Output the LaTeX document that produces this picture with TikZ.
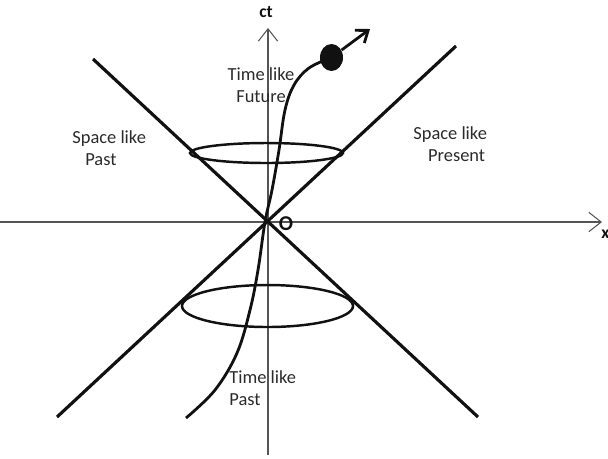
\documentclass[tikz,border=0pt]{standalone}
\usepackage{fontspec}
\setmainfont{Carlito}
\usetikzlibrary{arrows.meta,shapes.geometric}
\definecolor{lcink}  {HTML}{111111}
\definecolor{lcaxis} {HTML}{555555}
\definecolor{lctext} {HTML}{2B2B2B}
\tikzset{
  lcaxisline/.style={draw=lcaxis, line width=0.6pt,
                     -{Straight Barb[length=7pt,width=11pt]}},
  lccone/.style={draw=lcink, line width=1.8pt},
  lcring/.style={draw=lcink, line width=1.4pt},
  lcworld/.style={draw=lcink, line width=1.6pt},
  lclabel/.style={font=\fontsize{10.5}{12.5}\selectfont, text=lctext,
                  align=left, inner sep=0pt, anchor=north west},
  lcaxislabel/.style={font=\bfseries\fontsize{10}{12}\selectfont,
                      text=lcink, inner sep=0pt},
}

\begin{document}
\begin{tikzpicture}[x=0.02cm, y=-0.02cm]
  \useasboundingbox (0,0) rectangle (608,458);
  % axes
  \coordinate (O)  at (268,222);
  \coordinate (xl) at (0,222);   \coordinate (xr) at (602,222);
  \coordinate (tb) at (268,455); \coordinate (tt) at (268,28);
  \draw[lcaxisline] (xl) -- (xr);
  \draw[lcaxisline] (tb) -- (tt);
  \node[lcaxislabel] (ctlab) at (266,12) {ct};
  \node[lcaxislabel, anchor=west] (xlab) at (601,234) {x};
  \node[lcaxislabel, font=\bfseries\fontsize{12}{14}\selectfont]
       (olab) at (286,224) {O};

  % light cone and its two sections
  \coordinate (ul) at (93,59);  \coordinate (lr) at (478,417);
  \coordinate (ur) at (456,46); \coordinate (ll) at (57,417);
  \draw[lccone] (ul) -- (lr);
  \draw[lccone] (ur) -- (ll);
  \draw[lcring] (266.5,153) ellipse [x radius=76.5, y radius=10];
  \draw[lcring] (267.5,306) ellipse [x radius=85.5, y radius=21];

  % world line of the particle
  \node[ellipse, fill=lcink, minimum width=0.46cm, minimum height=0.54cm,
        inner sep=0pt] (ball) at (331.5,57.5) {};
  \coordinate (wstart) at (186,418);
  \coordinate (tip) at (370,29);
  \draw[lcworld] plot[smooth, tension=0.6] coordinates {(186,418) (215,390)
      (237,353) (250,310) (258,270) (265,222) (272,190) (279,150) (285,110)
      (294,85) (309,68) (331.5,57.5)};
  \draw[lcworld, -{Straight Barb[length=6pt,width=9pt]}] (ball) -- (tip);

  % regions
  \node[lclabel, align=center, anchor=north] (tfut) at (261,67)
       {Time like\\Future};
  \node[lclabel] (spast) at (72,130) {Space like\\\hspace*{0.7em}Past};
  \node[lclabel] (spres) at (413,126) {Space like\\\hspace*{0.8em}Present};
  \node[lclabel] (tpast) at (229,370) {Time like\\Past};
\end{tikzpicture}
\end{document}
